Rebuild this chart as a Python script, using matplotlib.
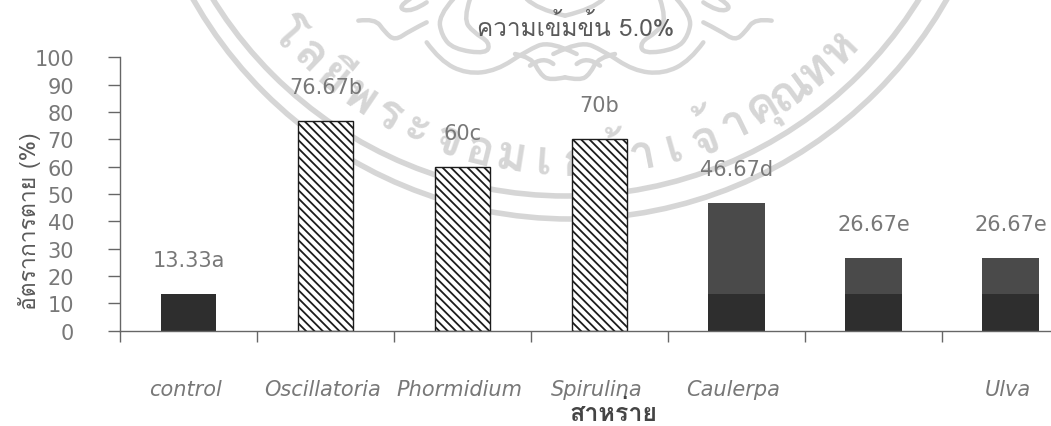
import numpy as np
import matplotlib
matplotlib.use('Agg')
import matplotlib.pyplot as plt
from matplotlib.patches import Circle, PathPatch
from matplotlib.path import Path

categories = ['control', 'Oscillatoria', 'Phormidium', 'Spirulina', 'Caulerpa', '', 'Ulva']
mortality = [13.33, 76.67, 60, 70, 46.67, 26.67, 26.67]
letters = ['a', 'b', 'c', 'b', 'd', 'e', 'e']
value_text = ['13.33', '76.67', '60', '70', '46.67', '26.67', '26.67']
bar_groups = ['dark', 'hatch', 'hatch', 'hatch', 'grey', 'grey', 'grey']
control_value = 13.33
y_ticks = [0, 10, 20, 30, 40, 50, 60, 70, 80, 90, 100]
seal_text = ['โ', 'ล', 'ยี', 'พ', 'ร', 'ะ', 'จ', 'อ', 'ม', 'เ', 'ก', 'ล้', 'า', 'เ', 'จ้', 'า', 'คุ', 'ณ', 'ท', 'ห']

# seal ornament, left half (3x, starting at x=330)
ornament = [
    [(85, 65), (135, 58), (165, 100), (195, 125), (240, 95), (290, 70)],
    [(290, 130), (330, 185), (410, 225), (500, 215), (590, 155), (660, 125), (740, 165)],
    [(370, 0), (325, 50), (335, 110), (370, 150), (470, 165), (480, 130), (430, 100), (400, 60), (420, 0)],
    [(240, 0), (200, 25), (245, 40), (290, 10)],
    [(590, 0), (620, 30), (705, 50)],
    [(555, 165), (605, 175), (630, 225), (660, 245), (705, 235)],
    [(670, 195), (640, 170), (600, 200)],
]

W, H = 1051, 427
TXT = '#787878'
SEAL = '#d6d6d6'
thai = ['Loma', 'DejaVu Sans']
plt.rcParams['hatch.linewidth'] = 1.3
plt.rcParams['font.family'] = ['DejaVu Sans']


def smooth_line(pts):
    # quadratic segments through the midpoints, so the strokes do not look kinked
    pts = np.array(pts, dtype=float)
    verts = [pts[0]]
    codes = [Path.MOVETO]
    for a, b in zip(pts[1:-1], pts[2:]):
        verts += [a, (a + b) / 2]
        codes += [Path.CURVE3, Path.CURVE3]
    verts[-1] = pts[-1]
    return Path(verts, codes)


fig = plt.figure(figsize=(W / 100, H / 100), dpi=100)

# watermark, drawn in pixel coords behind the chart
bg = fig.add_axes([0, 0, 1, 1], zorder=0)
bg.set_xlim(0, W)
bg.set_ylim(H, 0)
bg.axis('off')
bg.add_patch(Circle((570, -213), 433, fill=False, ec=SEAL, lw=4))
bg.add_patch(Circle((566, -218), 415, fill=False, ec=SEAL, lw=4))
for th, s in zip(np.linspace(-49, 46, len(seal_text)), seal_text):
    a = np.radians(th)
    bg.text(570 + 376 * np.sin(a), -213 + 376 * np.cos(a), s, rotation=th, rotation_mode='anchor',
            ha='center', va='center', fontsize=34, fontweight='bold', color=SEAL, family=thai)
for line in ornament:
    left = [(330 + px / 3, py / 3) for px, py in line]
    right = [(2 * 565 - px, py) for px, py in left]
    for side in (left, right):
        bg.add_patch(PathPatch(smooth_line(side), fill=False, ec=SEAL, lw=3.2, capstyle='round'))

ax = fig.add_axes([120 / W, 1 - 331.7 / H, (W - 120) / W, (331.7 - 58.3) / H], zorder=1)
ax.patch.set_alpha(0)
x = np.arange(len(categories))
for i, v in enumerate(mortality):
    if bar_groups[i] == 'hatch':
        ax.bar(x[i], v, 0.405, facecolor='white', edgecolor='#1c1c1c', hatch='\\\\\\\\', lw=1.0)
    elif bar_groups[i] == 'dark':
        ax.bar(x[i], v, 0.405, color='#2e2e2e')
    else:
        ax.bar(x[i], v, 0.41, color='#4a4a4a')
        ax.bar(x[i], control_value, 0.41, color='#2e2e2e')
    ax.annotate(value_text[i] + letters[i], (x[i], v), xytext=(0, 24), textcoords='offset pixels',
                ha='center', va='bottom', fontsize=15, color=TXT)

ax.set_xlim(-0.5, (W - 120) / 137 - 0.5)
ax.set_ylim(0, 100)
ax.set_yticks(y_ticks)
ax.set_xticks(np.arange(len(categories)) - 0.5)
ax.set_xticklabels([])
ax.tick_params(axis='y', length=9, width=1, color='#666666', labelsize=15, labelcolor=TXT, pad=24)
ax.tick_params(axis='x', length=8, width=1, color='#666666')
for s in ['top', 'right']:
    ax.spines[s].set_visible(False)
for s in ['left', 'bottom']:
    ax.spines[s].set_color('#666666')
    ax.spines[s].set_linewidth(1)

for xi, name in zip(x, categories):
    ax.annotate(name, (xi, 0), xytext=(-3, -58), textcoords='offset pixels', ha='center', va='center',
                fontsize=15, style='italic', color=TXT, annotation_clip=False)

fig.text(576 / W, 1 - 28 / H, 'ความเข้มข้น 5.0%', ha='center', va='center', fontsize=17.5, color='#5a5a5a', family=thai)
fig.text(30 / W, 1 - 221 / H, 'อัตราการตาย (%)', rotation=90, ha='center', va='center', fontsize=16.5, color='#5a5a5a', family=thai)
fig.text(613 / W, 1 - 414 / H, 'สาหร่าย', ha='center', va='center', fontsize=18, fontweight='bold', color='#444444', family=thai)

fig.savefig('out.png', dpi=100)
